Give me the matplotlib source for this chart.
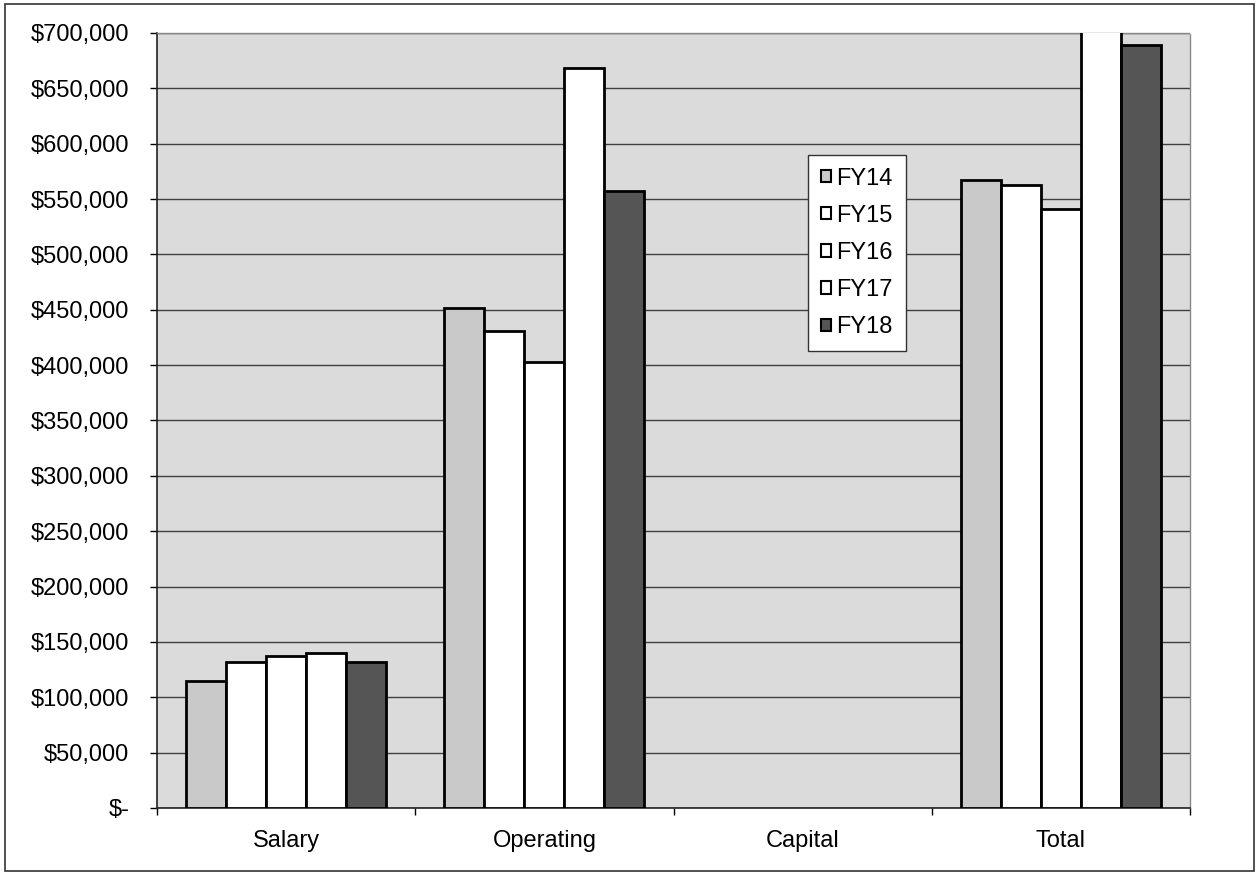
import matplotlib
matplotlib.use('Agg')
import matplotlib.pyplot as plt
import matplotlib.patches as mpatches
import numpy as np
from matplotlib.ticker import FuncFormatter, FixedLocator

plt.rcParams['font.family'] = ['Liberation Sans', 'DejaVu Sans']

categories = ['Salary', 'Operating', 'Capital', 'Total']
years = ['FY14', 'FY15', 'FY16', 'FY17', 'FY18']
fy14 = [115000, 452000, 0, 567000]
fy15 = [132000, 431000, 0, 563000]
fy16 = [137000, 403000, 0, 541000]
fy17 = [140000, 668000, 0, 808000]
fy18 = [132000, 557000, 0, 689000]
series = [fy14, fy15, fy16, fy17, fy18]
colors = ['#c9c9c9', '#ffffff', '#ffffff', '#ffffff', '#555555']

fig = plt.figure(figsize=(12.57, 8.73), dpi=100)
fig.patch.set_facecolor('white')
ax = fig.add_axes([0.1249, 0.0745, 0.8218, 0.8877])
ax.set_facecolor('#dbdbdb')

x = np.arange(len(categories))
w = 0.155
for i, (vals, col) in enumerate(zip(series, colors)):
    bars = ax.bar(x + (i - 2) * w, vals, width=w, color=col, edgecolor='black',
                  linewidth=2, label=years[i], zorder=3)
    for b, v in zip(bars, vals):
        if v == 0:
            b.set_linewidth(0)

ax.set_xlim(-0.5, 3.5)
ax.set_ylim(0, 700000)
ax.set_yticks(np.arange(0, 700001, 50000))
ax.yaxis.set_major_formatter(FuncFormatter(lambda v, p: '$-' if v == 0 else f'${v:,.0f}'))
ax.grid(axis='y', color='#404040', linewidth=1, zorder=1)

ax.set_xticks(x)
ax.set_xticklabels(categories)
ax.xaxis.set_minor_locator(FixedLocator(np.arange(-0.5, 3.6, 1)))
ax.tick_params(axis='x', which='major', length=0, pad=16, labelsize=17)
ax.tick_params(axis='x', which='minor', length=5, width=1, direction='out')
ax.tick_params(axis='y', length=5, width=1, direction='out', labelsize=17, pad=15)

for s in ['left', 'bottom']:
    ax.spines[s].set_color('#222222')
    ax.spines[s].set_linewidth(1.2)
for s in ['top', 'right']:
    ax.spines[s].set_color('#888888')
    ax.spines[s].set_linewidth(1)
    ax.spines[s].set_linestyle((0, (2, 1)))

handles = [mpatches.Patch(facecolor=c, edgecolor='black', linewidth=1.5) for c in colors]
leg = ax.legend(handles, years, loc='upper left', bbox_to_anchor=(0.630, 0.843),
                fontsize=17, frameon=True, fancybox=False, edgecolor='#333333',
                framealpha=1, handlelength=0.42, handleheight=0.42,
                handletextpad=0.25, labelspacing=0.64, borderpad=0.55,
                borderaxespad=0)
leg.get_frame().set_linewidth(1)
leg.set_zorder(5)

# outer border of the chart
fig.add_artist(mpatches.Rectangle((0.004, 0.002), 0.994, 0.993, transform=fig.transFigure,
                                  fill=False, edgecolor='#333333', linewidth=1.2))

fig.savefig('out.png', dpi=100, facecolor='white')
